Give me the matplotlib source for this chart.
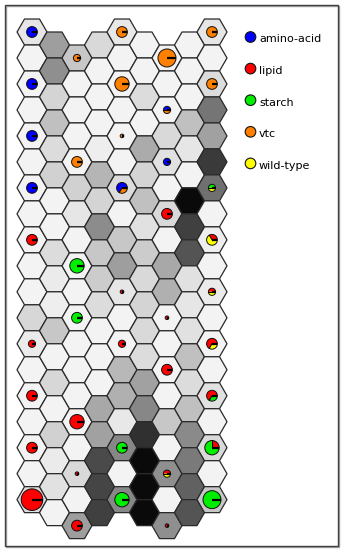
import numpy as np
import matplotlib
matplotlib.use("Agg")
import matplotlib.pyplot as plt
from matplotlib.collections import PolyCollection
from matplotlib.patches import Polygon, Circle, Rectangle

# ---------------- data ----------------
classes = ["amino-acid", "lipid", "starch", "vtc", "wild-type"]
class_colors = ["#0000FF", "#FF0000", "#00EE00", "#FF8000", "#FFFF00"]

W = 0.95
# grey level of each cell, one list per grid column (top to bottom)
grey_col0 = [0.90, W, W, W, W, W, W, W, W, W, W, 0.84, 0.92, W, W, W, W, W, 0.88]
grey_col1 = [0.62, 0.56, 0.83, 0.75, 0.86, 0.82, W, W, 0.86, 0.92, 0.93, 0.78, W, 0.84, W, 0.82, 0.92, 0.88, W]
grey_col2 = [0.78, W, W, W, W, 0.82, 0.90, W, W, W, W, W, W, W, W, W, 0.85, W, 0.62]
grey_col3 = [0.85, W, W, W, 0.93, 0.71, 0.83, 0.55, 0.78, 0.80, 0.86, W, W, W, 0.66, 0.63, 0.29, 0.27, 0.25]
grey_col4 = [0.91, W, W, W, W, W, 0.86, W, 0.78, 0.62, 0.90, W, W, 0.72, 0.69, 0.91, 0.53, W, 0.53]
grey_col5 = [W, W, 0.86, W, 0.67, 0.83, 0.75, 0.88, 0.80, 0.85, 0.83, 0.85, 0.86, 0.63, 0.53, 0.19, 0.04, 0.04, 0.04]
grey_col6 = [W, W, W, 0.85, 0.88, W, 0.85, W, 0.66, 0.69, W, W, W, W, 0.78, W, 0.56, W, 0.56]
grey_col7 = [W, W, W, 0.75, 0.90, W, 0.04, 0.25, 0.33, 0.88, 0.90, 0.88, 0.75, 0.86, 0.75, 0.54, 0.48, 0.38, 0.33]
grey_col8 = [0.90, W, 0.86, 0.46, 0.63, 0.23, 0.44, W, 0.93, W, 0.92, W, W, W, 0.88, W, 0.85, W, 0.78]
grey_cols = [grey_col0, grey_col1, grey_col2, grey_col3, grey_col4,
             grey_col5, grey_col6, grey_col7, grey_col8]

# pies: grid column, grid row, counts per class (amino, lipid, starch, vtc, wild)
pie_col = [0, 0, 0, 0, 0, 0, 0, 0, 0,
           2, 2, 2, 2, 2, 2, 2,
           4, 4, 4, 4, 4, 4, 4, 4,
           6, 6, 6, 6, 6, 6, 6, 6,
           8, 8, 8, 8, 8, 8, 8, 8, 8]
pie_row = [0, 2, 4, 6, 8, 12, 14, 16, 18,
           0, 4, 8, 10, 14, 16, 18,
           0, 2, 4, 6, 10, 12, 16, 18,
           0, 2, 4, 6, 10, 12, 16, 18,
           0, 2, 6, 8, 10, 12, 14, 16, 18]
pie_counts = [
    [3, 0, 0, 0, 0], [3, 0, 0, 0, 0], [3, 0, 0, 0, 0], [3, 0, 0, 0, 0],
    [0, 3, 0, 0, 0], [0, 2, 0, 0, 0], [0, 3, 0, 0, 0], [0, 3, 0, 0, 0], [0, 6, 0, 0, 0],
    [0, 0, 0, 2, 0], [0, 0, 0, 3, 0], [0, 0, 4, 0, 0], [0, 0, 3, 0, 0],
    [0, 4, 0, 0, 0], [0, 1, 0, 0, 0], [0, 3, 0, 0, 0],
    [0, 0, 0, 3, 0], [0, 0, 0, 4, 0], [0, 0, 0, 1, 0], [2, 0, 0, 1, 0],
    [0, 1, 0, 0, 0], [0, 2, 0, 0, 0], [0, 0, 3, 0, 0], [0, 0, 4, 0, 0],
    [0, 0, 0, 5, 0], [1, 0, 0, 1, 0], [2, 0, 0, 0, 0], [0, 3, 0, 0, 0],
    [0, 1, 0, 0, 0], [0, 3, 0, 0, 0], [0, 1, 0, 0, 1], [0, 1, 0, 0, 0],
    [0, 0, 0, 3, 0], [0, 0, 0, 3, 0], [0, 0, 1, 0, 1], [0, 1, 0, 0, 2],
    [0, 1, 0, 0, 1], [0, 2, 0, 0, 1], [0, 2, 1, 0, 0], [0, 1, 3, 0, 0], [0, 0, 5, 0, 0],
]

# ---------------- layout ----------------
R = 15.0                      # hex circumradius (px)
DX = 1.5 * R                  # column spacing
DY = np.sqrt(3) * R           # row spacing
X0, Y0 = 32.0, 32.0
col_shift = [0, 0.5, 1, 0.5]  # vertical shift pattern of the columns
UNIT = 1.8                    # pie radius per member

def center(c, k):
    return X0 + c * DX, Y0 + (k + col_shift[c % 4]) * DY

fig = plt.figure(figsize=(3.44, 5.52), dpi=100)
ax = fig.add_axes([0, 0, 1, 1])
ax.set_xlim(0, 344)
ax.set_ylim(552, 0)
ax.set_aspect("auto")
ax.axis("off")

# frame with shadow
ax.add_patch(Rectangle((6, 6), 333, 541, fill=False, ec="#A8A8A8", lw=1.0))
ax.add_patch(Rectangle((5, 5), 333, 541, fill=False, ec="#404040", lw=1.0))

ang = np.deg2rad(np.arange(0, 360, 60))
verts, vals = [], []
for c, col in enumerate(grey_cols):
    for k, g in enumerate(col):
        cx, cy = center(c, k)
        verts.append(np.column_stack([cx + R * np.cos(ang), cy + R * np.sin(ang)]))
        vals.append(g)
pc = PolyCollection(verts, cmap="gray", edgecolors="#2a2a2a", linewidths=0.9)
pc.set_array(np.array(vals))
pc.set_clim(0, 1)
ax.add_collection(pc)

# pies
for c, k, counts in zip(pie_col, pie_row, pie_counts):
    cx, cy = center(c, k)
    n = sum(counts)
    r = UNIT * n
    start = 0.0
    bounds = []
    for i, cnt in enumerate(counts):
        if cnt == 0:
            continue
        span = 2 * np.pi * cnt / n
        t = np.linspace(start, start + span, 60)
        pts = np.column_stack([cx + r * np.cos(t), cy - r * np.sin(t)])
        if span < 2 * np.pi - 1e-9:
            pts = np.vstack([[cx, cy], pts])
        ax.add_patch(Polygon(pts, closed=True, fc=class_colors[i], ec="none", zorder=3))
        bounds.append(start)
        start += span
    ax.add_patch(Circle((cx, cy), r, fill=False, ec="#111111", lw=0.7, zorder=4))
    for b in bounds[1:]:
        ax.plot([cx, cx + r * np.cos(b)], [cy, cy - r * np.sin(b)], color="black", lw=0.7, zorder=4)
    ax.plot([cx, cx + r], [cy, cy], color="black", lw=1.6, zorder=5, solid_capstyle="butt")

# legend
leg_x, leg_y0, leg_dy = 250.5, 37.0, 31.6
for i, (name, colr) in enumerate(zip(classes, class_colors)):
    y = leg_y0 + i * leg_dy
    ax.add_patch(Circle((leg_x, y), 5.3, fc=colr, ec="#111111", lw=0.8, zorder=3))
    ax.text(leg_x + 8.5, y + 2.5, name, fontsize=8, va="center", ha="left",
            family="DejaVu Sans", color="black")

fig.savefig("out.png", dpi=100)
